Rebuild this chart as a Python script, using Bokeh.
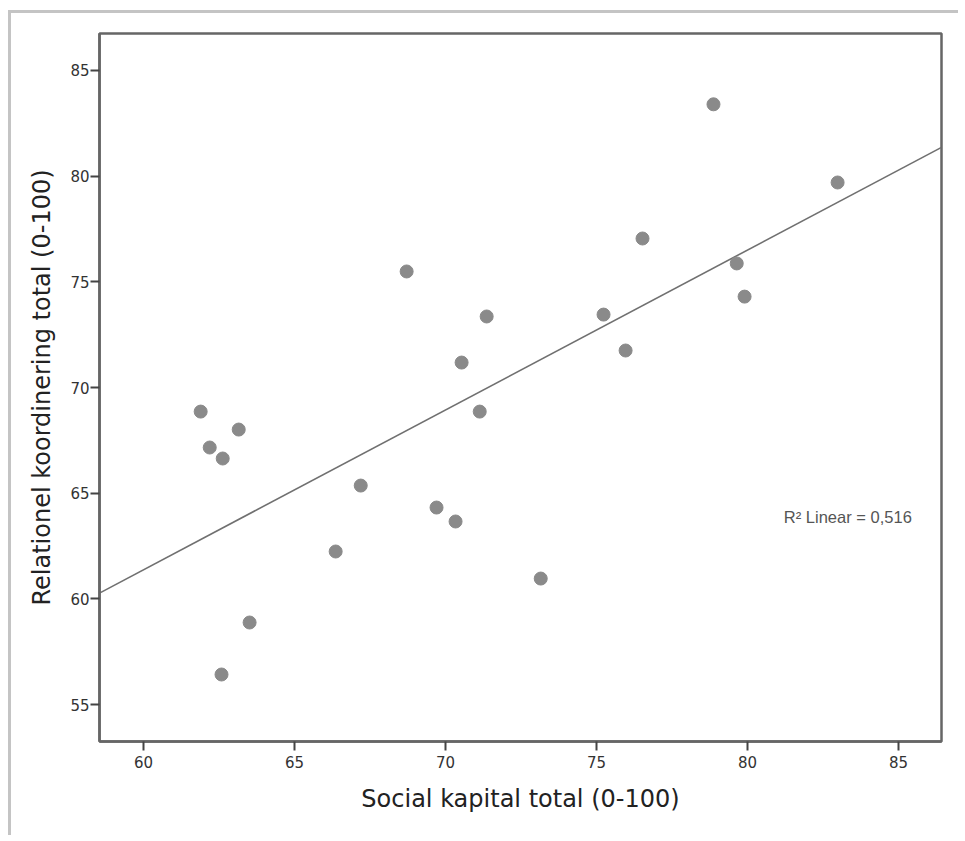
import numpy as np
from bokeh.plotting import figure
from bokeh.models import Range1d, FixedTicker, Label
from bokeh.embed import file_html
from bokeh.resources import INLINE

# Data
social_kapital = [61.89, 62.19, 62.62, 63.15, 63.51, 62.58, 66.36, 67.19, 68.71, 69.70, 70.33,
                  70.53, 71.13, 71.36, 73.15, 75.23, 75.96, 76.52, 78.87, 79.64, 79.90, 82.98]
relationel_koord = [68.86, 67.16, 66.64, 68.01, 58.88, 56.42, 62.24, 65.36, 75.49, 64.32, 63.66,
                    71.18, 68.86, 73.36, 60.96, 73.45, 71.75, 77.05, 83.40, 75.87, 74.30, 79.70]
x_ticks = [60, 65, 70, 75, 80, 85]
y_ticks = [55, 60, 65, 70, 75, 80, 85]
r2_text = "R² Linear = 0,516"

x_lo, x_hi = 58.54, 86.42
y_lo, y_hi = 53.25, 86.75

p = figure(width=950, height=825, output_backend="svg", toolbar_location=None,
           x_range=Range1d(x_lo, x_hi), y_range=Range1d(y_lo, y_hi),
           min_border_left=88, min_border_top=20, min_border_right=20, min_border_bottom=97)
p.styles = {"border-top": "3px solid #c4c4c4", "border-left": "3px solid #c4c4c4",
            "margin-left": "8px", "margin-top": "10px"}

p.xgrid.visible = False
p.ygrid.visible = False
p.background_fill_color = "white"
p.border_fill_color = "white"
p.outline_line_color = "#666666"
p.outline_line_width = 2.5

for ax in (p.xaxis, p.yaxis):
    ax.axis_line_color = "#666666"
    ax.axis_line_width = 2.5
    ax.major_tick_line_color = "#444444"
    ax.major_tick_line_width = 2
    ax.major_tick_out = 9
    ax.major_tick_in = 0
    ax.minor_tick_line_color = None
    ax.major_label_text_font = "DejaVu Sans"
    ax.major_label_text_font_size = "15px"
    ax.major_label_text_color = "#333333"
    ax.axis_label_text_font = "DejaVu Sans"
    ax.axis_label_text_font_size = "24px"
    ax.axis_label_text_font_style = "normal"
    ax.axis_label_text_color = "#222222"

p.xaxis.ticker = FixedTicker(ticks=x_ticks)
p.yaxis.ticker = FixedTicker(ticks=y_ticks)
p.xaxis.axis_label = "Social kapital total (0-100)"
p.yaxis.axis_label = "Relationel koordinering total (0-100)"
p.xaxis.major_label_standoff = 5
p.yaxis.major_label_standoff = 1
p.xaxis.axis_label_standoff = 14
p.yaxis.axis_label_standoff = 11

# regression line from data
slope, intercept = np.polyfit(social_kapital, relationel_koord, 1)
lx = [x_lo, x_hi]
ly = [intercept + slope * v for v in lx]
p.line(lx, ly, line_color="#707070", line_width=1.6)

p.scatter(social_kapital, relationel_koord, size=13, fill_color="#8a8a8a", line_color="#8a8a8a")

p.add_layout(Label(x=81.2, y=63.85, text=r2_text, text_font="Liberation Sans",
                   text_font_size="16.5px", text_color="#555555", text_baseline="middle"))

open("out.html", "w").write(file_html(p, INLINE))
